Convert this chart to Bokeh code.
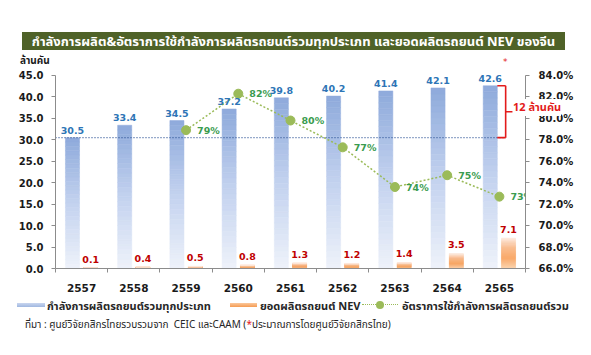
from bokeh.plotting import figure
from bokeh.layouts import column
from bokeh.models import (Range1d, LinearAxis, FixedTicker, PrintfTickFormatter, Div,
                          ColumnDataSource, LabelSet)
from bokeh.core.properties import value
from bokeh.embed import file_html
from bokeh.resources import INLINE

# ---------------- data ----------------
years = ["2557", "2558", "2559", "2560", "2561", "2562", "2563", "2564", "2565"]
capacity = [30.5, 33.4, 34.5, 37.2, 39.8, 40.2, 41.4, 42.1, 42.6]      # ล้านคัน
nev = [0.1, 0.4, 0.5, 0.8, 1.3, 1.2, 1.4, 3.5, 7.1]                    # ล้านคัน
rate_years = ["2559", "2560", "2561", "2562", "2563", "2564", "2565"]
rate = [78.9, 82.3, 79.8, 77.3, 73.6, 74.7, 72.7]                      # %
left_ticks = [0, 5, 10, 15, 20, 25, 30, 35, 40, 45]
right_ticks = [66, 68, 70, 72, 74, 76, 78, 80, 82, 84]

TITLE = "กำลังการผลิต&amp;อัตราการใช้กำลังการผลิตรถยนต์รวมทุกประเภท และยอดผลิตรถยนต์ NEV ของจีน"
LEG = ["กำลังการผลิตรถยนต์รวมทุกประเภท", "ยอดผลิตรถยนต์ NEV", "อัตราการใช้กำลังการผลิตรถยนต์รวม"]
SRC1 = "ที่มา : ศูนย์วิจัยกสิกรไทยรวบรวมจาก&nbsp; CEIC และCAAM ("
SRC2 = "*"
SRC3 = "ประมาณการโดยศูนย์วิจัยกสิกรไทย)"
UNIT = "ล้านคัน"
BRACKET = "12 ล้านคัน"

NUM = "DejaVu Sans"
TH = "Tahoma, 'Noto Sans Thai', 'Noto Sans', sans-serif"
NUMF = value(NUM)
W = 591
TOP_H, MAIN_H, BOT_H = 67, 229, 59
RED = "#e31b1b"

# ---------------- main chart ----------------
Y_TOP = 46.86
R_TOP = 66 + (84 - 66) * Y_TOP / 45
p = figure(width=W, height=MAIN_H, output_backend="svg", toolbar_location=None,
           x_range=Range1d(0, len(years)), y_range=Range1d(0, Y_TOP),
           min_border_left=55, min_border_right=66, min_border_top=0, min_border_bottom=28)
p.title.text = ""
p.outline_line_color = None
p.xgrid.visible = False
p.ygrid.visible = False

axis_col = "#8c8c8c"
centers = [i + 0.5 for i in range(len(years))]
xa = p.xaxis[0]
xa.ticker = FixedTicker(ticks=centers, minor_ticks=list(range(len(years) + 1)))
xa.major_label_overrides = {c: y for c, y in zip(centers, years)}
xa.major_tick_line_color = None
xa.minor_tick_in = 0
xa.minor_tick_out = 4
xa.minor_tick_line_color = axis_col
xa.axis_line_color = axis_col
xa.major_label_text_font = NUM
xa.major_label_text_font_style = "bold"
xa.major_label_text_font_size = "10.5px"
xa.major_label_text_color = "#1a1a1a"
xa.major_label_standoff = 9

ya = p.yaxis[0]
ya.ticker = FixedTicker(ticks=left_ticks)
ya.bounds = (0, 45)
ya.formatter = PrintfTickFormatter(format="%.1f")
ya.axis_line_color = axis_col
ya.major_tick_line_color = axis_col
ya.major_tick_in = 0
ya.major_tick_out = 4
ya.minor_tick_line_color = None
ya.major_label_text_font = NUM
ya.major_label_text_font_style = "bold"
ya.major_label_text_font_size = "10px"
ya.major_label_text_color = "#1a1a1a"
ya.major_label_standoff = 8

p.extra_y_ranges = {"rate": Range1d(66, R_TOP)}
ra = LinearAxis(y_range_name="rate", ticker=FixedTicker(ticks=right_ticks), bounds=(66, 84),
                formatter=PrintfTickFormatter(format="%.1f%%"))
ra.axis_line_color = axis_col
ra.major_tick_line_color = axis_col
ra.major_tick_in = 0
ra.major_tick_out = 4
ra.minor_tick_line_color = None
ra.major_label_text_font = NUM
ra.major_label_text_font_style = "bold"
ra.major_label_text_font_size = "10px"
ra.major_label_text_color = "#1a1a1a"
ra.major_label_standoff = 9
p.add_layout(ra, "right")

def hex2rgb(h):
    h = h.lstrip("#")
    return tuple(int(h[i:i + 2], 16) for i in (0, 2, 4))

def grad(stops, t):
    for (t0, c0), (t1, c1) in zip(stops, stops[1:]):
        if t0 <= t <= t1:
            f = (t - t0) / (t1 - t0) if t1 > t0 else 0
            a, b = hex2rgb(c0), hex2rgb(c1)
            return "#%02x%02x%02x" % tuple(round(a[j] + (b[j] - a[j]) * f) for j in range(3))
    return stops[-1][1]

blue_stops = [(0.0, "#eef2fa"), (0.5, "#c3d2ef"), (1.0, "#8eaadb")]
orange_stops = [(0.0, "#fbd3ad"), (0.35, "#f8a462"), (0.7, "#f9b98a"), (1.0, "#fdebe1")]

BW = 0.27
OFF = 0.175
N = 30

def seg_source(vals, off, stops):
    xs, bots, tops, cols = [], [], [], []
    for c, v in zip(centers, vals):
        for k in range(N):
            xs.append(c + off)
            bots.append(v * k / N)
            tops.append(v * (k + 1) / N)
            cols.append(grad(stops, (k + 0.5) / N))
    return ColumnDataSource(dict(x=xs, bottom=bots, top=tops, color=cols))

p.vbar(x="x", bottom="bottom", top="top", width=BW, source=seg_source(capacity, -OFF, blue_stops),
       fill_color="color", line_color="color", line_width=0.5)
p.vbar(x="x", bottom="bottom", top="top", width=BW, source=seg_source(nev, OFF, orange_stops),
       fill_color="color", line_color="color", line_width=0.5)

lsrc = ColumnDataSource(dict(
    xb=[c - OFF for c in centers], yb=capacity, tb=["%.1f" % v for v in capacity],
    xo=[c + OFF for c in centers], yo=nev, to=["%.1f" % v for v in nev]))
p.add_layout(LabelSet(x="xb", y="yb", text="tb", source=lsrc, text_align="center",
                      text_baseline="bottom", y_offset=4, text_font=NUMF,
                      text_font_style="bold", text_font_size="9.5px", text_color="#2e75b6"))
p.add_layout(LabelSet(x="xo", y="yo", text="to", source=lsrc, text_align="center",
                      text_baseline="bottom", y_offset=5, text_font=NUMF,
                      text_font_style="bold", text_font_size="9.5px", text_color="#c00000"))

BRX = centers[-1] + 0.12
p.segment(x0=[0], y0=[capacity[0]], x1=[BRX], y1=[capacity[0]],
          line_color="#2f5597", line_dash="1 2", line_width=1.3)
top_v, bot_v = capacity[-1], capacity[0]
mid_v = (top_v + bot_v) / 2
bar_right = centers[-1] - OFF + BW / 2
p.segment(x0=[bar_right, BRX, bar_right, BRX], y0=[top_v, top_v, bot_v, mid_v],
          x1=[BRX, BRX, BRX, BRX + 0.13], y1=[top_v, bot_v, bot_v, mid_v],
          line_color=RED, line_width=1.6)

ridx = [years.index(y) for y in rate_years]
rsrc = ColumnDataSource(dict(x=[centers[i] for i in ridx], y=rate,
                             t=["%d%%" % round(v) for v in rate]))
p.line("x", "y", source=rsrc, y_range_name="rate", line_color="#9bbb59",
       line_dash="2 2", line_width=1.5)
p.scatter("x", "y", source=rsrc, y_range_name="rate", size=9,
          fill_color="#9bbb59", line_color="#9bbb59")
p.add_layout(LabelSet(x="x", y="y", text="t", source=rsrc, y_range_name="rate",
                      x_offset=11, text_align="left", text_baseline="middle",
                      text_font=NUMF, text_font_style="bold", text_font_size="9.5px",
                      text_color="#3a9c4f"))

# ---------------- top strip (title bar, unit) ----------------
def ab(left, top, inner, extra=""):
    return ('<div style="position:absolute;left:%dpx;top:%dpx;white-space:nowrap;%s">%s</div>'
            % (left, top, extra, inner))

top_html = (
    ab(22, 32, TITLE, "width:543px;height:18px;line-height:18px;text-align:center;"
       "background:#4f6228;color:#fff;font:bold 13px %s;" % TH)
    + ab(20, 53, UNIT, "line-height:14px;color:#1a1a1a;font:bold 10px %s;" % TH)
    + ab(503, 57, "*", "line-height:12px;color:%s;font:9px '%s';" % (RED, NUM))
)
top_div = Div(text=top_html, width=W, height=TOP_H, margin=0,
              styles={"position": "relative", "overflow": "visible"})

# ---------------- bottom strip (legend, source, bracket note) ----------------
leg_font = "line-height:14px;color:#262626;font:bold 11px %s;" % TH
bot_html = (
    ab(17, 7, "", "width:28px;height:4px;background:linear-gradient(#c9d6ef,#9fb7e0);")
    + ab(47, 2, LEG[0], leg_font)
    + ab(230, 7, "", "width:27px;height:4px;background:linear-gradient(#fbc89c,#f59b52);")
    + ab(260, 2, LEG[1], leg_font)
    + ab(362, 8, "", "width:36px;height:0;border-top:1.5px dotted #9bbb59;")
    + ab(376, 5, "", "width:8px;height:8px;border-radius:50%;background:#9bbb59;")
    + ab(402, 2, LEG[2], leg_font)
    + ab(25, 21, SRC1 + '<span style="color:%s">%s</span>' % (RED, SRC2) + SRC3,
         "line-height:14px;color:#262626;font:10px %s;" % TH)
    + ab(513, -197, BRACKET, "line-height:14px;color:%s;font:bold 11px %s;background:#fff;"
         % (RED, TH))
)
bot_div = Div(text=bot_html, width=W, height=BOT_H, margin=0,
              styles={"position": "relative", "overflow": "visible", "z-index": "5"})

layout = column(top_div, p, bot_div, spacing=0)
open("out.html", "w").write(file_html(layout, INLINE))
